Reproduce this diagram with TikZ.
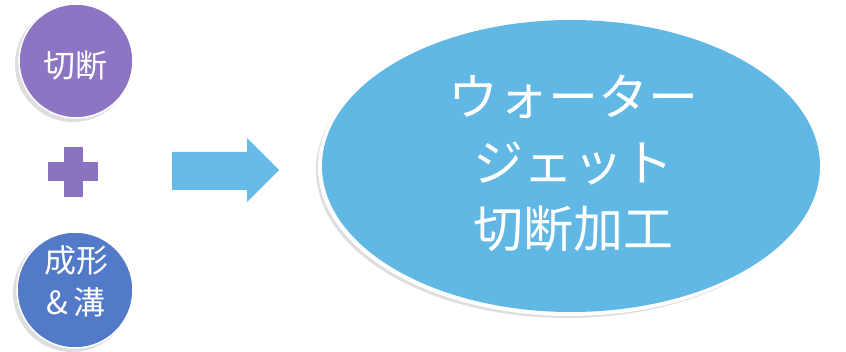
\documentclass[tikz,border=0pt]{standalone}
\usepackage{fontspec}
\newfontfamily\jp{Noto Sans CJK JP}
\definecolor{cpurple}{RGB}{140,118,196}
\definecolor{cblue}{RGB}{82,122,200}
\definecolor{cplus}{RGB}{138,116,192}
\definecolor{carrow}{RGB}{104,186,232}
\definecolor{cell}{RGB}{98,184,228}
\definecolor{cshadow}{RGB}{200,200,205}
\tikzset{
  ball/.style={circle, minimum size=#1, inner sep=0pt, text=white, align=center, draw=white, line width=1.5pt},
  shade/.style={fill=cshadow, opacity=0.6},
}
\begin{document}
\begin{tikzpicture}[x=1pt,y=-1pt]
\useasboundingbox[fill=white] (0,0) rectangle (846,352);
% shadows
\fill[shade] (73,64) circle (58);
\fill[shade] (72,293) circle (59);
\fill[shade] (567,170) ellipse (251 and 148);
% circles
\node[ball=114pt, fill=cpurple] (cut) at (76,61) {};
\node[text=white, font=\jp\fontsize{32}{34}\selectfont, inner sep=0pt] (cutt) at (75,66) {切断};
\node[ball=116pt, fill=cblue] (form) at (75,290) {};
\node[text=white, align=center, font=\jp\fontsize{32}{42}\selectfont, inner sep=0pt] (formt) at (76,281) {成形\\\&\hspace{5pt}溝};
% plus
\node[fill=cplus, minimum width=50pt, minimum height=19pt, inner sep=0pt] (plush) at (73,172) {};
\node[fill=cplus, minimum width=19pt, minimum height=50pt, inner sep=0pt] (plusv) at (73,172) {};
% arrow
\coordinate (a1) at (172,152);
\coordinate (a2) at (247,152);
\coordinate (a3) at (247,138);
\coordinate (a4) at (279,170);
\coordinate (a5) at (247,202);
\coordinate (a6) at (247,190);
\coordinate (a7) at (172,190);
\fill[carrow] (a1) -- (a2) -- (a3) -- (a4) -- (a5) -- (a6) -- (a7) -- cycle;
% ellipse
\fill[white] (570,167) ellipse (252 and 149);
\fill[cell] (571,166) ellipse (249 and 146);
\node[text=white, align=center, font=\jp\fontsize{50}{66}\selectfont, inner sep=0pt] (wj) at (573,163) {ウォーター\\ジェット\\切断加工};
\end{tikzpicture}
\end{document}
